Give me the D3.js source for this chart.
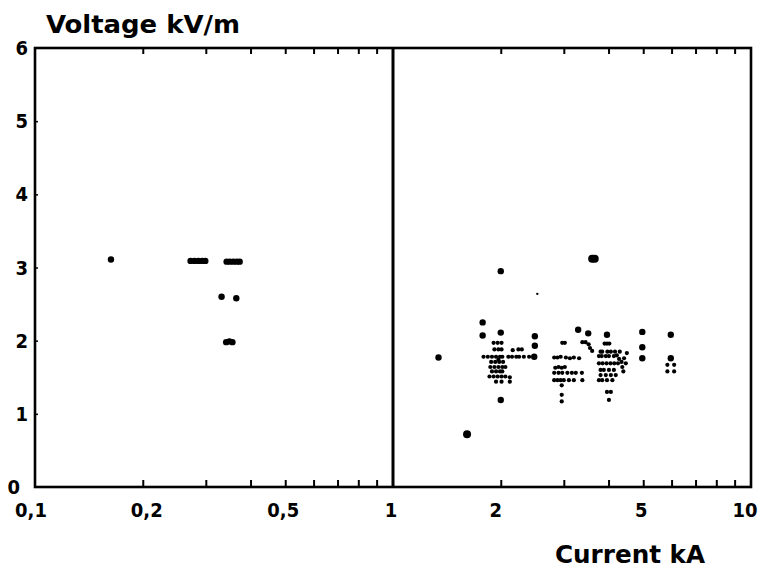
<!DOCTYPE html>
<html>
<head>
<meta charset="utf-8">
<script src="https://cdn.jsdelivr.net/npm/d3@7/dist/d3.min.js"></script>
<style>
  html, body { margin: 0; padding: 0; background: #fff; }
  svg { display: block; }
  text { font-family: "DejaVu Sans Condensed", "DejaVu Sans", sans-serif; fill: #000; }
</style>
</head>
<body>
<svg id="chart" width="759" height="570"></svg>
<script>
// ---- Data (current in kA, voltage in kV/m) ----
const xTickValues = [0.1, 0.2, 0.5, 1, 2, 5, 10];
const xTickLabels = ["0,1", "0,2", "0,5", "1", "2", "5", "10"];
const xMinorTicks = [0.2, 0.3, 0.4, 0.5, 0.6, 0.7, 0.8, 0.9, 2, 3, 4, 5, 6, 7, 8, 9];
const yTickValues = [0, 1, 2, 3, 4, 5, 6];
const yTickLabels = ["0", "1", "2", "3", "4", "5", "6"];

// isolated, well-inked points
const isolatedPoints = [
  [0.163, 3.11],
  [0.272, 3.09], [0.279, 3.09], [0.286, 3.09], [0.293, 3.09], [0.299, 3.09],
  [0.343, 3.08], [0.350, 3.08], [0.358, 3.08], [0.366, 3.08], [0.373, 3.08],
  [0.332, 2.60], [0.365, 2.58],
  [0.342, 1.98], [0.349, 1.99], [0.356, 1.98],
  [1.34, 1.77], [2.0, 2.95], [1.78, 2.25], [1.78, 2.07], [2.0, 2.11],
  [2.49, 2.06], [2.49, 1.93], [2.48, 1.78], [2.0, 1.19],
  [3.29, 2.15], [3.51, 2.10], [3.96, 2.08],
  [4.97, 2.12], [4.97, 1.91], [4.97, 1.76],
  [5.97, 2.08], [5.97, 1.76]
];

// large points
const largePoints = [
  [1.61, 0.72], [3.60, 3.12], [3.66, 3.12]
];

// faint point
const faintPoints = [
  [2.53, 2.64]
];

// dense cluster points (smaller dots)
const clusterPoints = [
  // near 2 kA
  [1.91, 1.97], [1.96, 1.97], [2.01, 1.97],
  [1.92, 1.88], [1.97, 1.88], [2.01, 1.88],
  [2.16, 1.87], [2.24, 1.88], [2.29, 1.88],
  [1.79, 1.78], [1.84, 1.78], [1.89, 1.78], [1.94, 1.78], [1.99, 1.78], [2.02, 1.78],
  [2.10, 1.78], [2.15, 1.78], [2.21, 1.78], [2.25, 1.78], [2.32, 1.78], [2.40, 1.78],
  [1.97, 1.74],
  [1.88, 1.71], [1.93, 1.71], [1.98, 1.71], [2.03, 1.71],
  [1.87, 1.64], [1.92, 1.64], [1.97, 1.64], [2.02, 1.64], [2.06, 1.64],
  [1.89, 1.58], [1.94, 1.58], [1.99, 1.58], [2.02, 1.58],
  [1.86, 1.51], [1.91, 1.51], [1.96, 1.51], [2.01, 1.51], [2.06, 1.51],
  [2.12, 1.50], [2.12, 1.44], [1.94, 1.44], [2.01, 1.44],
  // near 3 kA
  [2.97, 1.97], [3.02, 1.97],
  [3.38, 1.98], [3.45, 1.98], [3.52, 1.95], [3.55, 1.90], [3.60, 1.86],
  [2.82, 1.77], [2.88, 1.77], [2.94, 1.78], [3.04, 1.77], [3.12, 1.76], [3.20, 1.77], [3.31, 1.76],
  [2.84, 1.63], [2.90, 1.64], [2.96, 1.63], [3.02, 1.64],
  [2.82, 1.56], [2.90, 1.56], [2.97, 1.56], [3.07, 1.56], [3.16, 1.56], [3.24, 1.56], [3.37, 1.56],
  [2.82, 1.46], [2.88, 1.46], [2.94, 1.46], [3.00, 1.46], [3.10, 1.46], [3.20, 1.46], [3.38, 1.46],
  [2.96, 1.39], [2.96, 1.26], [2.96, 1.17],
  // near 4 kA
  [3.90, 1.96], [3.96, 1.96], [4.02, 1.96],
  [3.80, 1.85], [3.84, 1.85], [3.97, 1.85], [4.06, 1.85], [4.17, 1.85], [4.30, 1.85],
  [3.76, 1.79], [3.83, 1.79], [3.93, 1.79], [4.01, 1.79], [4.14, 1.79],
  [4.22, 1.80], [4.28, 1.75], [4.50, 1.83], [4.42, 1.76], [4.35, 1.71],
  [4.37, 1.64], [4.40, 1.58],
  [3.76, 1.69], [3.85, 1.69], [3.95, 1.69], [4.05, 1.69], [4.15, 1.69], [4.25, 1.69], [4.47, 1.69],
  [3.80, 1.60], [3.88, 1.60], [4.01, 1.60], [4.14, 1.60],
  [3.80, 1.53], [3.93, 1.53], [4.06, 1.53], [4.19, 1.53],
  [3.76, 1.46], [3.84, 1.46], [3.96, 1.46], [4.10, 1.46],
  [3.96, 1.30], [4.06, 1.30], [4.01, 1.19],
  // near 6 kA
  [5.84, 1.67], [6.10, 1.67], [5.84, 1.58], [6.10, 1.58]
];

// ---- Drawing ----
const svg = d3.select("#chart");
const plotLeft = 35, plotRight = 751, plotTop = 48, plotBottom = 487;

const x = d3.scaleLog().domain([0.1, 10]).range([plotLeft, plotRight]);
const y = d3.scaleLinear().domain([0, 6]).range([plotBottom, plotTop]);

// minor ticks top & bottom (inward)
const minorBottom = d3.axisTop(x).tickValues(xMinorTicks).tickSize(7).tickFormat("");
const minorTop = d3.axisBottom(x).tickValues(xMinorTicks).tickSize(6).tickFormat("");
svg.append("g").attr("transform", `translate(0,${plotBottom})`).call(minorBottom)
  .call(g => g.select(".domain").remove())
  .call(g => g.selectAll("line").attr("stroke", "#000").attr("stroke-width", 2));
svg.append("g").attr("transform", `translate(0,${plotTop})`).call(minorTop)
  .call(g => g.select(".domain").remove())
  .call(g => g.selectAll("line").attr("stroke", "#000").attr("stroke-width", 2));

// y ticks on left (small inward)
const yAxis = d3.axisRight(y).tickValues(yTickValues.slice(1, -1)).tickSize(3).tickFormat("");
svg.append("g").attr("transform", `translate(${plotLeft},0)`).call(yAxis)
  .call(g => g.select(".domain").remove())
  .call(g => g.selectAll("line").attr("stroke", "#000").attr("stroke-width", 1.5));

// frame
svg.append("rect")
  .attr("x", plotLeft).attr("y", plotTop)
  .attr("width", plotRight - plotLeft).attr("height", plotBottom - plotTop)
  .attr("fill", "none").attr("stroke", "#000").attr("stroke-width", 2.6);

// divider at 1 kA
svg.append("line")
  .attr("x1", x(1)).attr("x2", x(1)).attr("y1", plotTop).attr("y2", plotBottom)
  .attr("stroke", "#000").attr("stroke-width", 3);

// x tick labels
const xLabelShift = [-4, 4, -2, -2, -5, -2, -6];
svg.append("g").selectAll("text").data(xTickValues).join("text")
  .attr("x", (d, i) => x(d) + xLabelShift[i])
  .attr("y", 517)
  .attr("text-anchor", "middle")
  .attr("font-size", 20)
  .attr("font-weight", "bold")
  .text((d, i) => xTickLabels[i]);

// y tick labels
svg.append("g").selectAll("text").data(yTickValues).join("text")
  .attr("x", d => d === 0 ? 20 : 28)
  .attr("y", d => y(d) + 7)
  .attr("text-anchor", "end")
  .attr("font-size", 20)
  .attr("font-weight", "bold")
  .text((d, i) => yTickLabels[i]);

// axis titles
svg.append("text").attr("x", 46).attr("y", 33)
  .attr("font-size", 25).attr("font-weight", "bold")
  .attr("textLength", 194).attr("lengthAdjust", "spacingAndGlyphs")
  .text("Voltage kV/m");
svg.append("text").attr("x", 555).attr("y", 563)
  .attr("font-size", 25).attr("font-weight", "bold")
  .attr("textLength", 150).attr("lengthAdjust", "spacingAndGlyphs")
  .text("Current kA");

// points
const pts = svg.append("g");
pts.selectAll("circle.iso").data(isolatedPoints).join("circle").attr("class", "iso")
  .attr("cx", d => x(d[0])).attr("cy", d => y(d[1])).attr("r", 3.2).attr("fill", "#000");
pts.selectAll("circle.clu").data(clusterPoints).join("circle").attr("class", "clu")
  .attr("cx", d => x(d[0])).attr("cy", d => y(d[1])).attr("r", 2.1).attr("fill", "#000");
pts.selectAll("circle.big").data(largePoints).join("circle").attr("class", "big")
  .attr("cx", d => x(d[0])).attr("cy", d => y(d[1])).attr("r", 4).attr("fill", "#000");
pts.selectAll("circle.faint").data(faintPoints).join("circle").attr("class", "faint")
  .attr("cx", d => x(d[0])).attr("cy", d => y(d[1])).attr("r", 1.2).attr("fill", "#000");
</script>
</body>
</html>
